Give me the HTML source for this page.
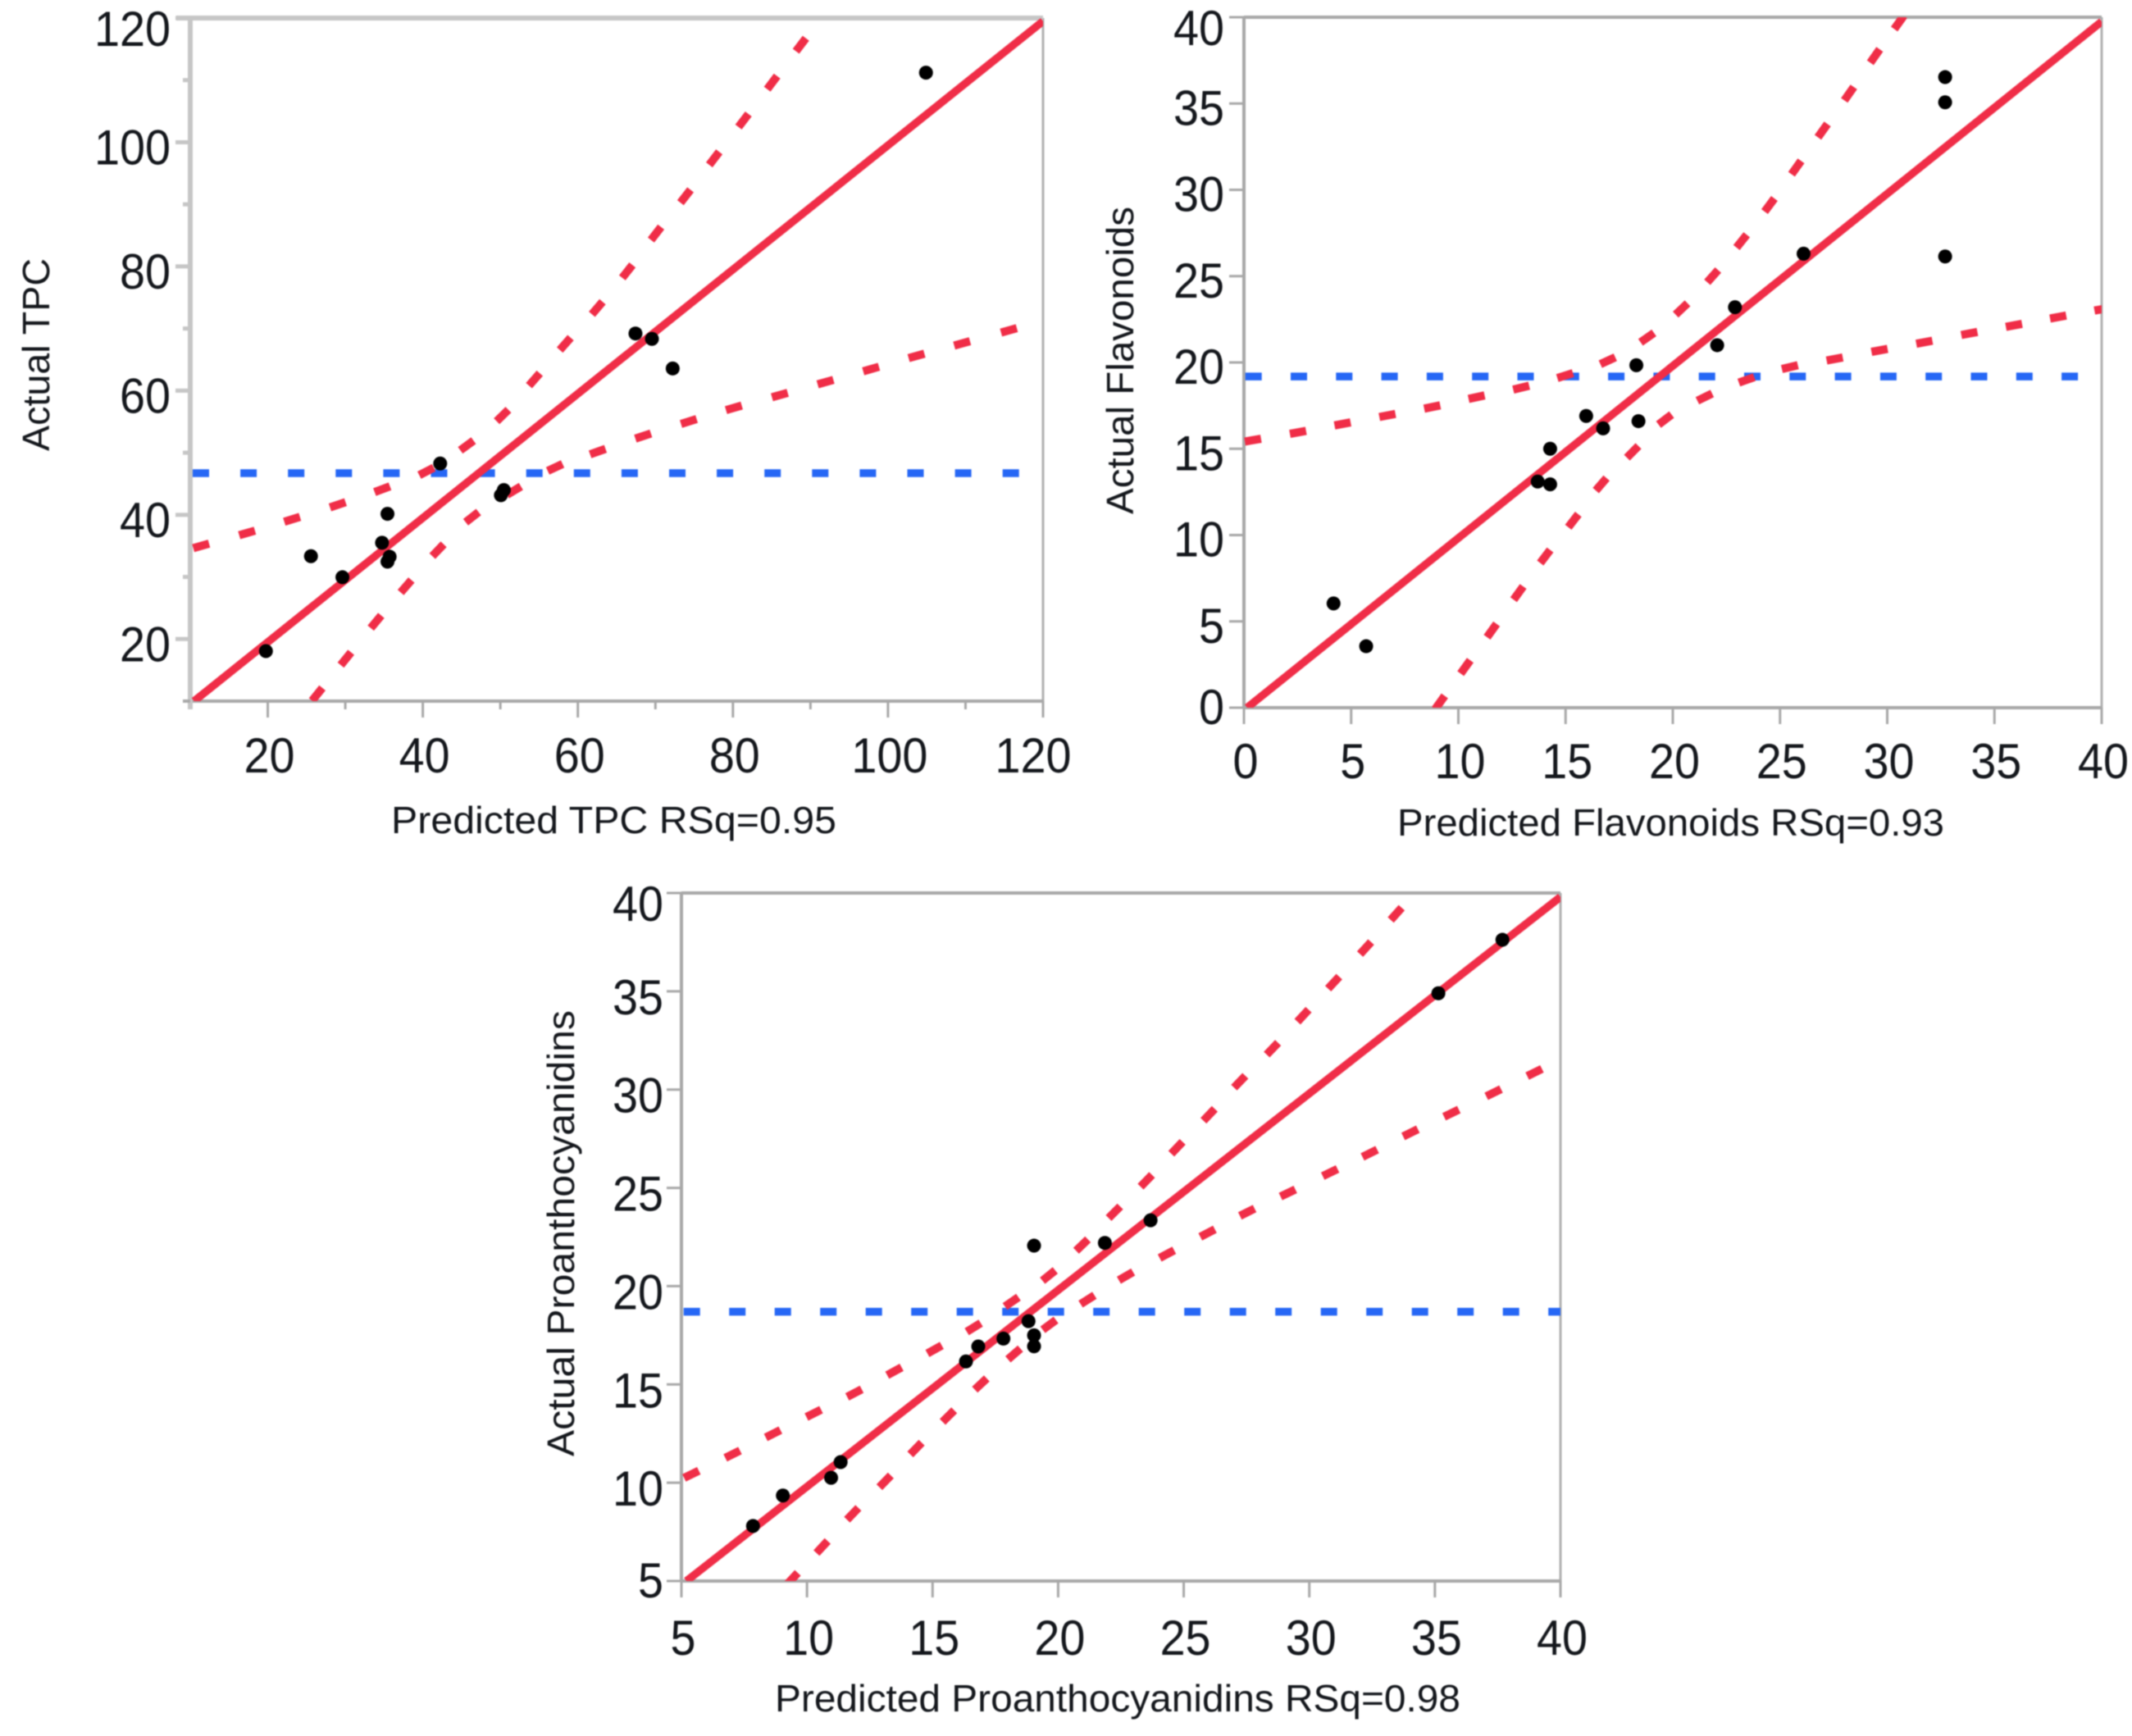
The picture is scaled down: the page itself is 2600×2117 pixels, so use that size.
<!DOCTYPE html>
<html lang="en">
<head>
<meta charset="utf-8">
<title>Actual by predicted plots</title>
<style>
html,body{margin:0;padding:0;background:#fff;width:2600px;height:2117px;overflow:hidden}
svg{display:block;filter:blur(0.7px)}
text{font-family:"Liberation Sans",sans-serif;fill:#14171c}
</style>
</head>
<body>
<svg id="figure" xmlns="http://www.w3.org/2000/svg" width="2600" height="2117" viewBox="0 0 2600 2117"></svg>
<script>
// ---- TPC data ----
const tpcPredicted = [19.76,25.57,29.63,34.74,35.44,35.72,35.44,42.24,50.07,50.45,67.43,69.55,72.23,104.9];
const tpcActual = [18.06,33.34,29.95,35.5,40.16,33.25,32.46,48.26,43.16,43.99,69.2,68.33,63.57,111.2];
const tpcUpperX = [11.41,17.33,23.14,29.03,34.77,40.48,45.69,50.28,54.39,58.37,62.5,66.38,70.08,73.88,77.59,81.36,85.06,88.77];
const tpcUpperY = [35,37.08,39.28,41.62,44.13,46.99,51.17,56,61.8,67.53,73.3,79.2,85.3,91.3,97.4,103.5,109.6,115.7];
const tpcLowerX = [26.38,30.08,33.96,37.84,41.96,46.36,51.75,57.07,62.57,68.42,74.31,80.12,86.05,91.94,97.82,103.68,109.56,115.6];
const tpcLowerY = [11.1,16.83,22.77,28.5,34.3,39.63,43.9,47.63,50.18,52.69,55.03,57.23,59.29,61.37,63.48,65.59,67.61,69.7];
const tpcFitX = [10.5,120];
const tpcFitY = [10,119.5];
const tpcMeanX = [10,116.9];
const tpcMeanY = [46.71,46.71];
const tpcMajorTicks = [20,40,60,80,100,120];
const tpcMinorTicks = [10,30,50,70,90,110];

// ---- Flavonoids data ----
const flavPredicted = [4.18,5.7,13.7,14.28,14.28,15.96,16.75,18.3,18.4,22.07,22.9,26.1,32.7,32.7,32.7];
const flavActual = [6.04,3.56,13.1,12.94,15,16.9,16.18,19.84,16.6,21,23.2,26.3,26.14,35.07,36.53];
const flavUpperX = [0.42,2.52,4.6,6.69,8.78,10.85,12.93,14.98,16.97,18.81,20.41,21.86,23.21,24.51,25.76,26.99,28.22,29.43,30.55];
const flavUpperY = [15.5,15.95,16.44,16.93,17.42,17.99,18.54,19.24,20.1,21.44,23.1,25,27.03,29.12,31.29,33.43,35.57,37.75,39.7];
const flavLowerX = [9.14,10.33,11.56,12.8,14.05,15.36,16.66,18.13,19.64,21.49,23.44,25.46,27.55,29.64,31.73,33.83,35.91,37.97,40.04];
const flavLowerY = [0.3,2.36,4.47,6.64,8.76,10.83,12.94,14.82,16.69,17.99,18.99,19.73,20.2,20.7,21.17,21.68,22.15,22.63,23.09];
const flavFitX = [0.15,40];
const flavFitY = [0,39.75];
const flavMeanX = [0,39.08];
const flavMeanY = [19.19,19.19];
const flavMajorTicks = [0,5,10,15,20,25,30,35,40];
const flavMinorTicks = [];

// ---- Proanthocyanidins data ----
const proPredicted = [7.85,9.04,10.96,11.34,16.33,16.82,17.82,18.82,19.04,19.04,19.04,21.86,23.68,35.14,37.69];
const proActual = [7.8,9.35,10.25,11.05,16.17,16.93,17.33,18.22,17.5,16.94,22.06,22.2,23.35,34.9,37.62];
const proUpperX = [5.4,7.04,8.65,10.27,11.89,13.48,15.08,16.64,18.15,19.63,20.95,22.24,23.51,24.73,26.01,27.23,28.53,29.75,30.97,32.24,33.46];
const proUpperY = [10.43,11.45,12.49,13.53,14.56,15.67,16.78,17.9,19.2,20.54,22.09,23.76,25.36,27.04,28.72,30.4,32.08,33.76,35.44,37.2,38.94];
const proLowerX = [9.41,10.6,11.82,13.11,14.34,15.63,16.92,18.25,19.65,21.17,22.7,24.33,25.95,27.53,29.15,30.83,32.41,34.03,35.66,37.34,38.97];
const proLowerY = [5.11,6.73,8.42,10.07,11.74,13.39,15.02,16.55,18.03,19.31,20.51,21.63,22.7,23.76,24.74,25.78,26.76,27.8,28.8,29.84,30.87];
const proFitX = [5.2,40];
const proFitY = [5,39.8];
const proMeanX = [5,40];
const proMeanY = [18.7,18.7];
const proMajorTicks = [5,10,15,20,25,30,35,40];
const proMinorTicks = [];

const NS = 'http://www.w3.org/2000/svg';
const figure = document.getElementById('figure');
const RED = '#f02d47';
const BLUE = '#2667f5';

function node(parent, tag, attrs, txt) {
  const el = document.createElementNS(NS, tag);
  for (const k in attrs) el.setAttribute(k, attrs[k]);
  if (txt !== undefined) el.textContent = txt;
  parent.appendChild(el);
  return el;
}

function drawPanel(p) {
  const sx = v => p.left + (v - p.min) / (p.max - p.min) * (p.right - p.left);
  const sy = v => p.bottom - (v - p.min) / (p.max - p.min) * (p.bottom - p.top);
  const pts = (xs, ys) => xs.map((x, i) => sx(x).toFixed(1) + ',' + sy(ys[i]).toFixed(1)).join(' ');

  const g = node(figure, 'g', {});
  
  

  const clipId = 'clip-' + p.key;
  const defs = node(g, 'defs', {});
  const clip = node(defs, 'clipPath', {id: clipId});
  node(clip, 'rect', {x: p.left, y: p.top, width: p.right - p.left, height: p.bottom - p.top});

  const rightEdge = node(g, 'line', {x1: p.right, x2: p.right, y1: p.top, y2: p.bottom, stroke: '#b0b0b0', 'stroke-width': 3});
  
  

  const topEdge = node(g, 'line', {x1: p.left - (p.topExtend || 0), x2: p.right, y1: p.top, y2: p.top, stroke: p.leftColor, 'stroke-width': p.leftWidth});
  
  

  const xAxis = node(g, 'line', {x1: p.left, x2: p.right, y1: p.bottom, y2: p.bottom, stroke: '#a8a8a8', 'stroke-width': 4});
  
  

  const yAxis = node(g, 'line', {x1: p.left, x2: p.left, y1: p.top, y2: p.bottom, stroke: p.leftColor, 'stroke-width': p.leftWidth});
  
  

  p.minor.forEach(v => {
    const tx = node(g, 'line', {x1: sx(v), x2: sx(v), y1: p.bottom, y2: p.bottom + 10, stroke: v === p.min ? p.leftColor : '#a8a8a8', 'stroke-width': v === p.min ? p.leftWidth : 3});
    
    
    const ty = node(g, 'line', {x1: p.left - 9, x2: p.left, y1: sy(v), y2: sy(v), stroke: v === p.min ? '#a8a8a8' : p.leftColor, 'stroke-width': v === p.min ? 4 : p.leftWidth - 1});
    
    
  });

  p.major.forEach(v => {
    const tx = node(g, 'line', {x1: sx(v), x2: sx(v), y1: p.bottom, y2: p.bottom + 20, stroke: '#a8a8a8', 'stroke-width': 3});
    
    
    const ty = node(g, 'line', {x1: p.left - 18, x2: p.left, y1: sy(v), y2: sy(v), stroke: v === p.min ? '#a8a8a8' : p.leftColor, 'stroke-width': p.leftWidth - 1});
    
    

    const label = String(v);
    const w = label.length * 31;
    const lx = node(g, 'text', {x: sx(v) + (p.lastXShift && v === p.max ? p.lastXShift : 2), y: p.xLabelBase, 'text-anchor': 'middle', 'font-size': 60, textLength: w, lengthAdjust: 'spacingAndGlyphs'}, label);
    
    
    const off = v === p.max ? 34 : (v === p.min ? 20 : p.yLabelOffset);
    const ly = node(g, 'text', {x: p.yLabelRight, y: sy(v) + off, 'text-anchor': 'end', 'font-size': 60, textLength: w, lengthAdjust: 'spacingAndGlyphs'}, label);
    
    
  });

  const marks = node(g, 'g', {'clip-path': 'url(#' + clipId + ')'});
  
  

  const mean = node(marks, 'polyline', {points: pts(p.meanX, p.meanY), fill: 'none', stroke: BLUE, 'stroke-width': 9.5, 'stroke-dasharray': '20 ' + p.meanGap, 'stroke-dashoffset': p.meanOffset});
  
  

  // each read point of a confidence curve is the centre of one dash
  function drawCurve(xs, ys, name) {
    const curve = node(marks, 'g', {});
    
    
    xs.forEach((x, i) => {
      const a = Math.max(i - 1, 0);
      const b = Math.min(i + 1, xs.length - 1);
      const dx = sx(xs[b]) - sx(xs[a]);
      const dy = sy(ys[b]) - sy(ys[a]);
      const len = Math.hypot(dx, dy) || 1;
      const hx = dx / len * 10;
      const hy = dy / len * 10;
      const dash = node(curve, 'line', {x1: sx(x) - hx, y1: sy(ys[i]) - hy, x2: sx(x) + hx, y2: sy(ys[i]) + hy, stroke: RED, 'stroke-width': 10});
      
      
    });
  }
  drawCurve(p.upperX, p.upperY, p.key + '-upper-confidence-curve');
  drawCurve(p.lowerX, p.lowerY, p.key + '-lower-confidence-curve');

  const fit = node(marks, 'polyline', {points: pts(p.fitX, p.fitY), fill: 'none', stroke: RED, 'stroke-width': 9.5});
  
  

  p.xs.forEach((x, i) => {
    const c = node(g, 'circle', {cx: sx(x), cy: sy(p.ys[i]), r: 8.5, fill: '#000'});
    
    
  });

  const xt = node(g, 'text', {x: p.xTitle.x, y: p.xTitle.y, 'font-size': 46, textLength: p.xTitle.w, lengthAdjust: 'spacingAndGlyphs'}, p.xTitle.text);
  
  

  const yt = node(g, 'text', {x: 0, y: 0, 'font-size': 46, textLength: p.yTitle.w, lengthAdjust: 'spacingAndGlyphs', transform: 'translate(' + p.yTitle.x + ' ' + p.yTitle.y + ') rotate(-90)'}, p.yTitle.text);
  
  
}

drawPanel({
  key: 'tpc', left: 232, right: 1272, top: 22, bottom: 855, min: 10, max: 120,
  major: tpcMajorTicks, minor: tpcMinorTicks, xs: tpcPredicted, ys: tpcActual,
  upperX: tpcUpperX, upperY: tpcUpperY, lowerX: tpcLowerX, lowerY: tpcLowerY,
  fitX: tpcFitX, fitY: tpcFitY, meanX: tpcMeanX, meanY: tpcMeanY, meanOffset: -3, meanGap: 38.1,
  leftColor: '#c6c6c6', leftWidth: 6, topExtend: 17, yLabelOffset: 27,
  xLabelBase: 942, yLabelRight: 208, lastXShift: -12,
  xTitle: {text: 'Predicted TPC RSq=0.95', x: 477, y: 1016, w: 543},
  yTitle: {text: 'Actual TPC', x: 60, y: 550, w: 235}
});

drawPanel({
  key: 'flavonoids', left: 1517, right: 2563, top: 21, bottom: 863, min: 0, max: 40,
  major: flavMajorTicks, minor: flavMinorTicks, xs: flavPredicted, ys: flavActual,
  upperX: flavUpperX, upperY: flavUpperY, lowerX: flavLowerX, lowerY: flavLowerY,
  fitX: flavFitX, fitY: flavFitY, meanX: flavMeanX, meanY: flavMeanY, meanOffset: -1.7, meanGap: 35.3,
  leftColor: '#a8a8a8', leftWidth: 4, topExtend: 0, yLabelOffset: 26,
  xLabelBase: 949, yLabelRight: 1493,
  xTitle: {text: 'Predicted Flavonoids RSq=0.93', x: 1704, y: 1019, w: 667},
  yTitle: {text: 'Actual Flavonoids', x: 1382, y: 627, w: 375}
});

drawPanel({
  key: 'proanthocyanidins', left: 831, right: 1903, top: 1089, bottom: 1928, min: 5, max: 40,
  major: proMajorTicks, minor: proMinorTicks, xs: proPredicted, ys: proActual,
  upperX: proUpperX, upperY: proUpperY, lowerX: proLowerX, lowerY: proLowerY,
  fitX: proFitX, fitY: proFitY, meanX: proMeanX, meanY: proMeanY, meanOffset: -2.7, meanGap: 35.5,
  leftColor: '#a8a8a8', leftWidth: 4, topExtend: 0, yLabelOffset: 28,
  xLabelBase: 2018, yLabelRight: 809,
  xTitle: {text: 'Predicted Proanthocyanidins RSq=0.98', x: 945, y: 2087, w: 836},
  yTitle: {text: 'Actual Proanthocyanidins', x: 700, y: 1776, w: 544}
});
</script>
</body>
</html>
